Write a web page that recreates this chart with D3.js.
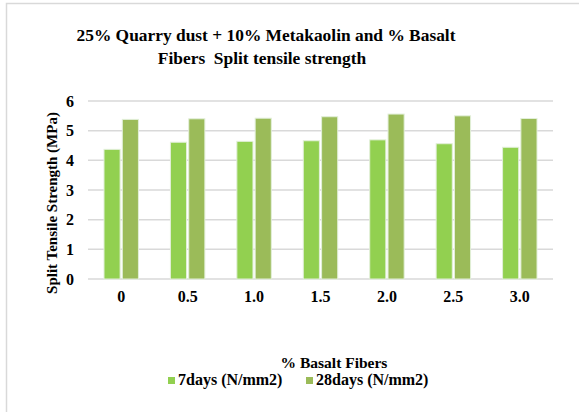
<!DOCTYPE html>
<html>
<head>
<meta charset="utf-8">
<script src="https://cdn.jsdelivr.net/npm/d3@7"></script>
<style>
  body { margin: 0; background: #fff; }
  text { font-family: "Liberation Serif", "Times New Roman", serif; font-weight: bold; fill: #000; }
</style>
</head>
<body>
<div id="chart"></div>
<script>
var w = 579;
var h = 412;

var categories = ["0", "0.5", "1.0", "1.5", "2.0", "2.5", "3.0"];
var seriesNames = ["7days (N/mm2)", "28days (N/mm2)"];
var days7 = [4.37, 4.61, 4.64, 4.66, 4.69, 4.56, 4.44];
var days28 = [5.38, 5.40, 5.42, 5.47, 5.56, 5.50, 5.41];
var yTicks = [0, 1, 2, 3, 4, 5, 6];
var colors = ["#92d050", "#9bbb59"];

var plotLeft = 88, plotRight = 553, plotTop = 101, plotBottom = 279;

var svg = d3.select("#chart")
    .append("svg")
    .attr("width", w)
    .attr("height", h);

// outer frame
svg.append("rect")
    .attr("x", 6.5)
    .attr("y", 3.5)
    .attr("width", w + 10)
    .attr("height", h + 10)
    .attr("fill", "none")
    .attr("stroke", "#d9d9d9")
    .attr("stroke-width", 1.5);

var title = svg.append("text")
    .attr("text-anchor", "middle")
    .attr("font-size", "17.4px");
title.append("tspan").attr("x", 266).attr("y", 41).text("25% Quarry dust + 10% Metakaolin and % Basalt");
title.append("tspan").attr("x", 262).attr("y", 64).style("white-space", "pre").text("Fibers  Split tensile strength");

var x = d3.scaleBand()
    .domain(categories)
    .range([plotLeft, plotRight])
    .paddingInner(0)
    .paddingOuter(0);

var inner = d3.scaleBand()
    .domain([0, 1])
    .range([16, x.bandwidth() - 16])
    .paddingInner(0.12);

var y = d3.scaleLinear()
    .domain([0, 6])
    .range([plotBottom, plotTop]);

// gridlines
svg.append("g")
    .selectAll("line")
    .data(yTicks)
    .enter()
    .append("line")
    .attr("x1", plotLeft)
    .attr("x2", plotRight)
    .attr("y1", function (d) { return y(d); })
    .attr("y2", function (d) { return y(d); })
    .attr("stroke", "#d9d9d9")
    .attr("stroke-width", 1.5);

// y axis labels
var yAxis = d3.axisLeft(y).tickValues(yTicks).tickFormat(d3.format("d")).tickSize(0).tickPadding(14);
svg.append("g")
    .attr("transform", "translate(" + plotLeft + ",0)")
    .call(yAxis)
    .call(function (g) { g.select(".domain").remove(); })
    .selectAll("text")
    .attr("font-size", "16px")
    .attr("font-family", "Liberation Serif, serif");

// x axis labels
var xAxis = d3.axisBottom(x).tickSize(0).tickPadding(12);
svg.append("g")
    .attr("transform", "translate(0," + plotBottom + ")")
    .call(xAxis)
    .call(function (g) { g.select(".domain").remove(); })
    .selectAll("text")
    .attr("font-size", "16px")
    .attr("font-family", "Liberation Serif, serif");

var rows = categories.map(function (c, i) {
    return { cat: c, vals: [days7[i], days28[i]] };
});

var groups = svg.selectAll("g.grp")
    .data(rows)
    .enter()
    .append("g")
    .attr("class", "grp")
    .attr("transform", function (d) { return "translate(" + x(d.cat) + ",0)"; });

groups.selectAll("rect")
    .data(function (d) { return d.vals; })
    .enter()
    .append("rect")
    .attr("x", function (d, i) { return inner(i); })
    .attr("y", function (d) { return y(d); })
    .attr("width", inner.bandwidth())
    .attr("height", function (d) { return y(0) - y(d); })
    .attr("fill", function (d, i) { return colors[i]; })
    .attr("stroke", "#e2efd9")
    .attr("stroke-width", 1);

// y axis title
svg.append("text")
    .attr("transform", "translate(57,203) rotate(-90)")
    .attr("text-anchor", "middle")
    .attr("font-size", "15px")
    .text("Split Tensile Strength (MPa)");

// x axis title
svg.append("text")
    .attr("x", 334)
    .attr("y", 368)
    .attr("text-anchor", "middle")
    .attr("font-size", "15.5px")
    .text("% Basalt Fibers");

// legend
var legendX = [168, 306];
var legend = svg.selectAll("g.leg")
    .data(seriesNames)
    .enter()
    .append("g")
    .attr("class", "leg")
    .attr("transform", function (d, i) { return "translate(" + legendX[i] + ",377)"; });

legend.append("rect")
    .attr("width", 7)
    .attr("height", 7)
    .attr("fill", function (d, i) { return colors[i]; });

legend.append("text")
    .attr("x", 10)
    .attr("y", 8)
    .attr("font-size", "16px")
    .text(function (d) { return d; });
</script>
</body>
</html>
